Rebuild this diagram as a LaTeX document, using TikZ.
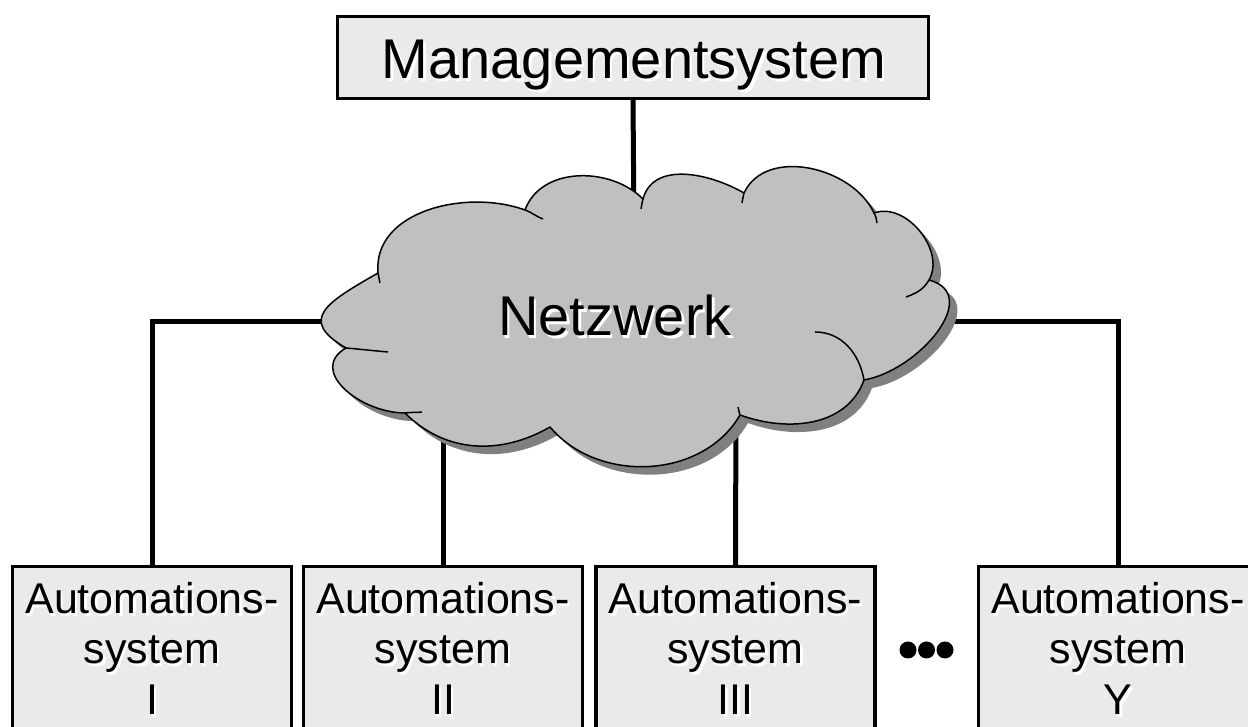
\documentclass[tikz,border=0pt]{standalone}
\usepackage{fontspec}
\setmainfont{Liberation Sans}
\definecolor{boxfill}{HTML}{EAEAEA}
\definecolor{cloudfill}{HTML}{C0C0C0}
\definecolor{cloudshade}{HTML}{808080}
\newcommand\shtxt[1]{\makebox[0pt][l]{\hspace{2.5pt}\raisebox{-2.5pt}{\textcolor{white}{#1}}}#1}
\begin{document}
\begin{tikzpicture}[x=1pt,y=1pt,
  sysbox/.style={draw=black,line width=3.3pt,fill=boxfill,inner sep=0pt,minimum width=279pt,minimum height=200pt},
  conn/.style={line width=5pt},
  bigtext/.style={inner sep=0pt,anchor=base,font=\fontsize{56}{60}\selectfont},
  smalltext/.style={inner sep=0pt,anchor=base,font=\fontsize{43}{50}\selectfont},
  cloudline/.style={line width=1.5pt,line join=round},
]
\useasboundingbox (0,0) rectangle (1248,727);
\clip (0,0) rectangle (1248,727);

% boxes
\node[sysbox,minimum width=591pt,minimum height=82pt] (M) at (633,669.5) {};
\node[sysbox] (bI) at (152,60.5) {};
\node[sysbox] (bII) at (443,60.5) {};
\node[sysbox] (bIII) at (735.5,60.5) {};
\node[sysbox] (bY) at (1118,60.5) {};

% connector ends hidden under the cloud
\coordinate (jT) at (634,500);
\coordinate (jL) at (345,405);
\coordinate (jR) at (935,405);
\coordinate (jII) at (443,320);
\coordinate (jIII) at (736,330);

\draw[conn] (M.south) -- (jT);
\draw[conn] (bI.north) |- (jL);
\draw[conn] (bY.north) |- (jR);
\draw[conn] (bII.north) -- (jII);
\draw[conn] (bIII.north) -- (jIII);

% cloud
\def\cloudpath{(378,454) to[out=95,in=160] (525,517) to[out=70,in=135] (643,528) to[out=75,in=150] (744,534) to[out=65,in=115] (874,514) to[out=20,in=60] (929,447) to[out=-15,in=10,looseness=1.2] (864,347) to[out=-110,in=-20] (740,312) to[out=-120,in=-50] (550,300) to[out=-150,in=-45] (405,314) to[out=180,in=-150,looseness=1.3] (346,379) to[out=150,in=-150,looseness=1.8] (378,454) -- cycle}
\begin{scope}[shift={(8,-8)}]
\fill[cloudshade] \cloudpath;
\end{scope}
\filldraw[fill=cloudfill,draw=black,cloudline] \cloudpath;
\draw[cloudline] (378,454) to[out=-85,in=95] (380,444)
  (525,517) to[out=-20,in=160] (543,508)
  (643,528) to[out=-100,in=85] (641,518)
  (744,534) to[out=-100,in=85] (742,524)
  (874,514) to[out=-60,in=100] (877,504)
  (929,447) to[out=-120,in=20] (906,430)
  (864,347) to[out=100,in=0] (815,395)
  (740,312) to[out=95,in=-90] (738,320)
  (405,314) to[out=10,in=190] (422,315)
  (346,379) to[out=-5,in=175] (388,375);

% texts
\node[bigtext] (tM) at (634,648) {\shtxt{Managementsystem}};
\node[bigtext] (tN) at (615,391) {\shtxt{Netzwerk}};
\foreach \nm/\cx/\num in {I/152/I, II/443/II, III/735.5/III, Y/1118/Y}{
  \node[smalltext] (t\nm-a) at (\cx,113) {\shtxt{Automations-}};
  \node[smalltext] (t\nm-b) at (\cx,63) {\shtxt{system}};
  \node[smalltext] (t\nm-c) at (\cx,12) {\shtxt{\num}};
}

% ellipsis dots
\fill (908,77) circle (8.5);
\fill (926.5,77) circle (8.5);
\fill (945,77) circle (8.5);
\end{tikzpicture}
\end{document}
